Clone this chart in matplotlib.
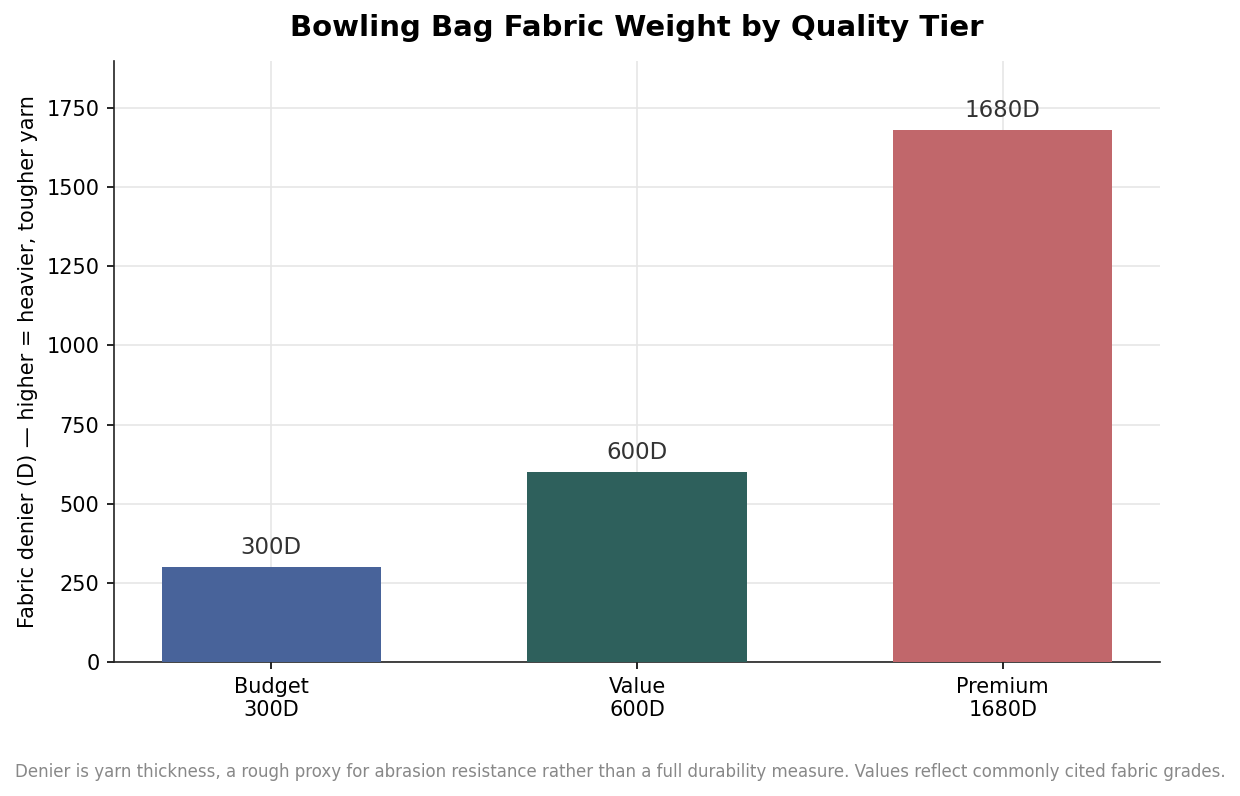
import matplotlib
matplotlib.use("Agg")
import matplotlib.pyplot as plt

categories = ["Budget", "Value", "Premium"]
denier = [300, 600, 1680]
bar_labels = ["300D", "600D", "1680D"]
tick_labels = ["Budget\n300D", "Value\n600D", "Premium\n1680D"]
colors = ["#48639A", "#2E605C", "#C1676B"]

fig = plt.figure(figsize=(1240/150, 796/150), dpi=150)
ax = fig.add_axes([114/1240, 1-662/796, (1160-114)/1240, (662-61)/796])

x = list(range(len(categories)))
bars = ax.bar(x, denier, width=0.6, color=colors, zorder=3)
for b, lab in zip(bars, bar_labels):
    ax.annotate(lab, (b.get_x() + b.get_width()/2, b.get_height()),
                xytext=(0, 4), textcoords="offset points",
                ha="center", va="bottom", fontsize=11, color="#333333")

ax.set_xticks(x)
ax.set_xticklabels(tick_labels, fontsize=10)
ax.tick_params(axis="y", labelsize=10)
ax.set_ylim(0, max(denier) * 1.13)
ax.set_ylabel("Fabric denier (D) — higher = heavier, tougher yarn", fontsize=10)
ax.grid(True, color="#e6e6e6", linewidth=0.8, zorder=0)
ax.set_axisbelow(True)
for s in ["top", "right"]:
    ax.spines[s].set_visible(False)
for s in ["left", "bottom"]:
    ax.spines[s].set_color("#222222")

ax.set_title("Bowling Bag Fabric Weight by Quality Tier", fontsize=14, fontweight="bold", pad=12)
fig.text(0.5, 1-772/796, "Denier is yarn thickness, a rough proxy for abrasion resistance rather than a full durability measure. Values reflect commonly cited fabric grades.",
         ha="center", va="center", fontsize=8, color="#888888")

fig.savefig("out.png", dpi=150)
